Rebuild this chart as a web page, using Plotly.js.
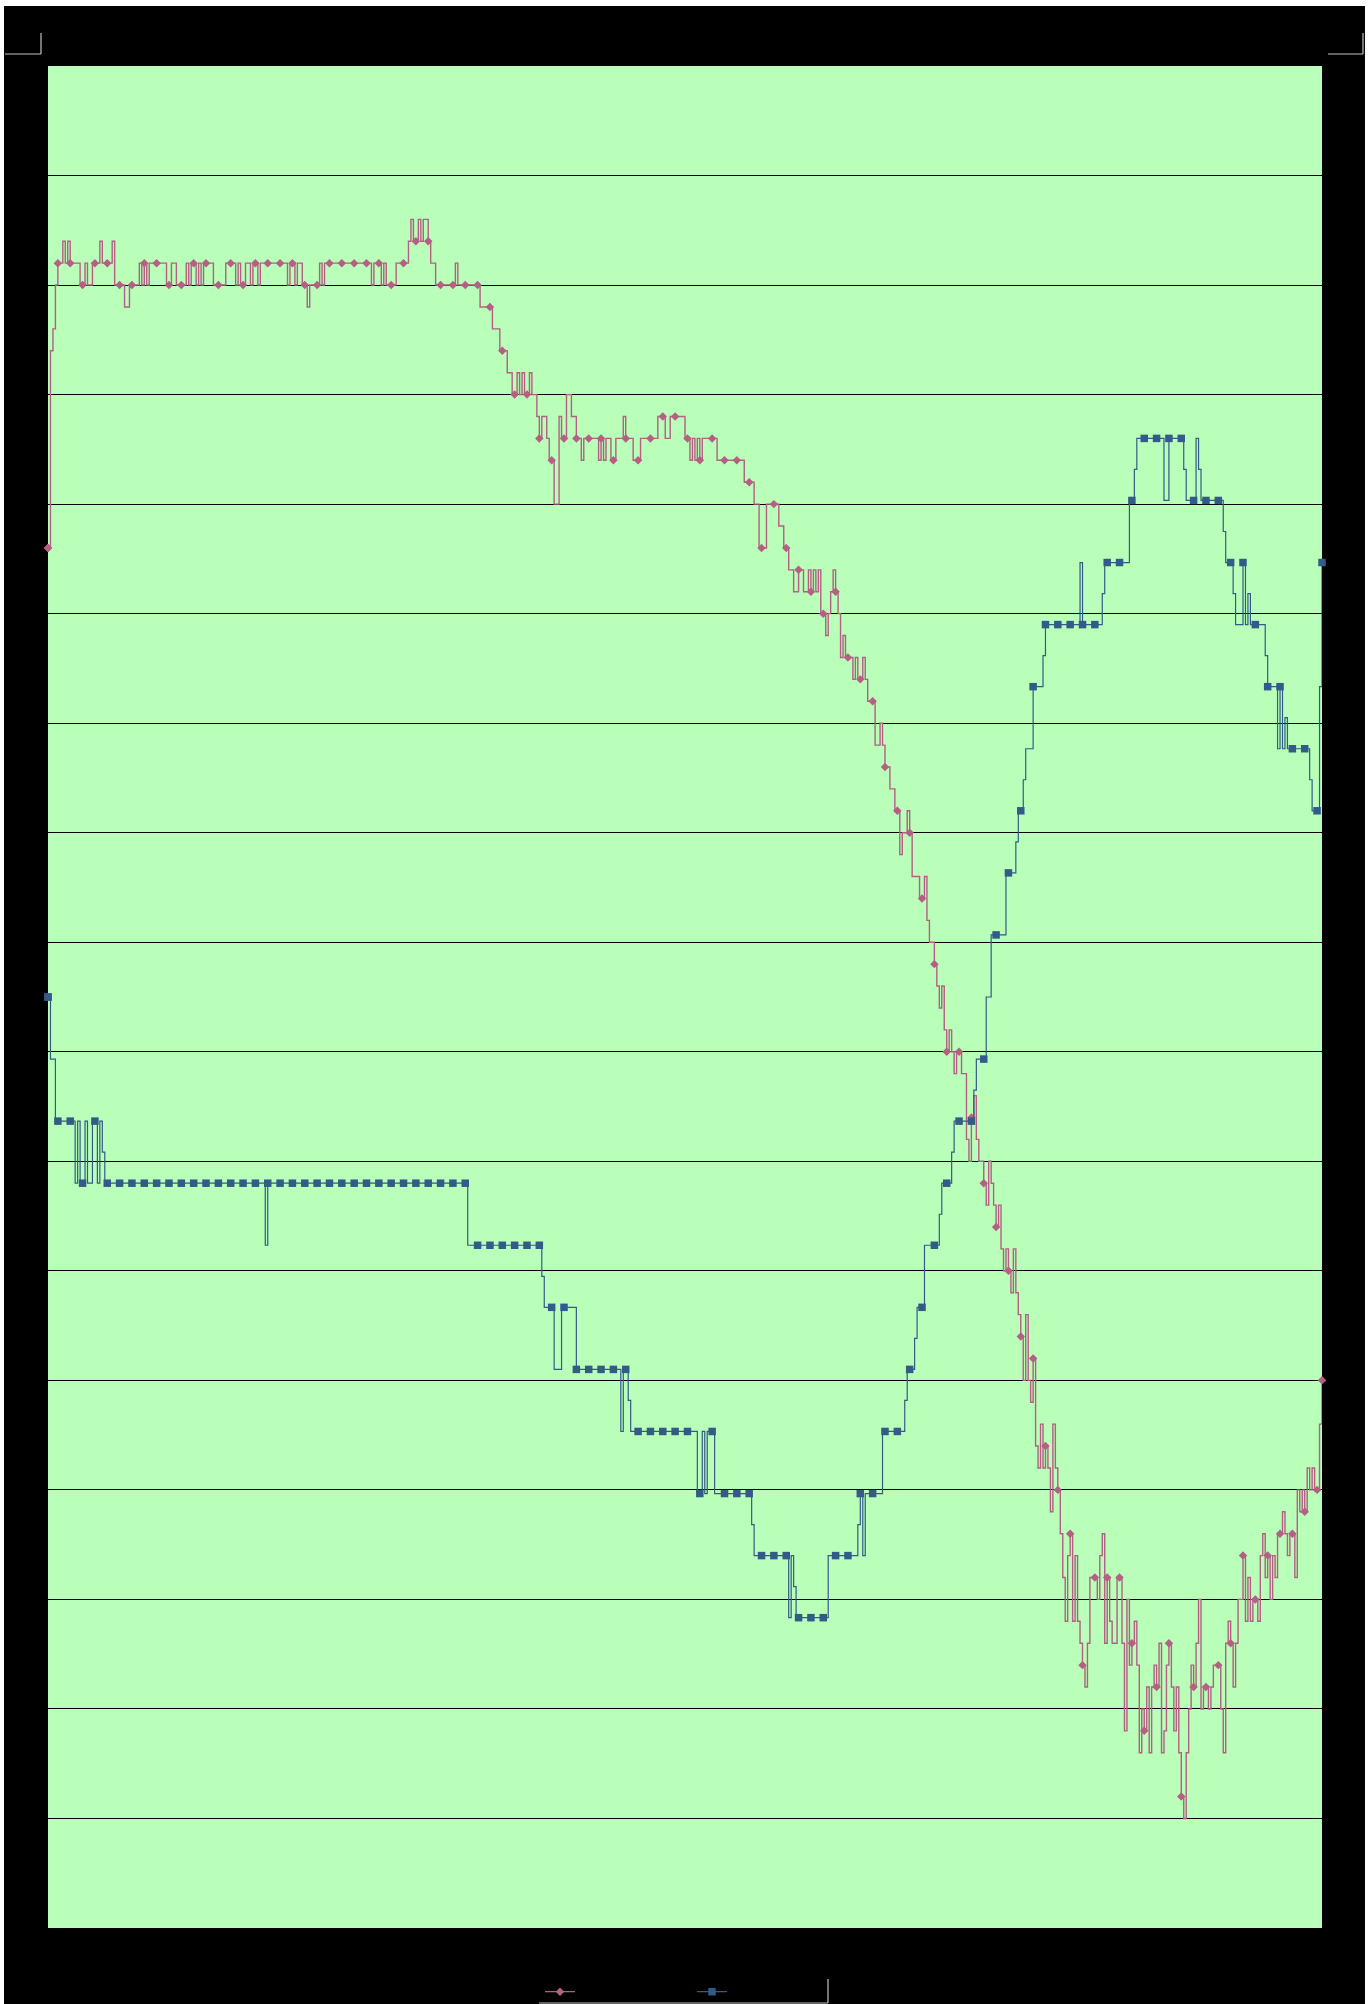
<!DOCTYPE html>
<html>
<head>
<meta charset="utf-8">
<script src="https://cdn.plot.ly/plotly-3.0.1.min.js"></script>
<style>
html, body { margin: 0; padding: 0; background: #ffffff; overflow: hidden; width: 1372px; height: 2004px; }
#chart { position: absolute; left: 4px; top: 6px; width: 1361px; height: 1998px; }
</style>
</head>
<body>
<div id="chart"></div>
<script>
// ---- data (one value per sample) ----
const seriesNames = ['Series A', 'Series B'];

// pink series (left axis, gridlines every 5)
const pinkValues = [
63,72,73,75,
76,76,77,76,77, 76,76,76,76,75, 75,76,75,75,76, 76,76,77,76,76, 76,76,77,75,75,
75,75,74,74,75, 75,75,75,76,75, 76,75,76,76,76, 76,76,76,76,75, 75,76,76,75,75,
75,75,76,75,76, 76,75,76,75,76, 76,76,76,75,75, 75,75,75,76,76, 76,76,75,76,75,
75,76,76,75,76, 76,75,76,76,76, 76,76,76,76,76, 76,76,76,75,76, 76,75,76,76,75,
75,74,75,75,75, 75,76,75,76,76, 76,76,76,76,76, 76,76,76,76,76, 76,76,76,76,76,
76,76,75,76,76, 76,75,76,75,75, 75,75,76,76,76, 76,76,77,78,77, 77,78,77,78,78,
77,76,76,75,75, 75,75,75,75,75, 75,76,75,75,75, 75,75,75,75,75, 75,74,74,74,74,
74,73,73,73,72, 72,72,71,71,70, 70,71,70,71,70, 70,71,70,70,69, 68,69,69,68,67,
67,65,65,69,68, 68,70,70,69,69, 68,68,67,68,68, 68,68,68,68,67, 68,67,68,68,67,
67,68,68,68,69, 68,68,68,67,67, 67,68,68,68,68, 68,68,68,69,69, 69,68,68,69,69,
69,69,69,69,68, 68,67,68,67,68, 67,68,68,68,68, 68,68,67,67,67, 67,67,67,67,67,
67,67,67,66,66, 66,66,65,65,63, 63,63,65,65,65, 65,65,64,64,63, 63,62,62,61,61,
62,62,61,61,62, 61,62,61,62,60, 60,59,60,61,62, 61,60,58,59,58, 58,58,57,58,57,
57,58,57,56,56, 56,54,54,55,54, 53,53,52,52,51, 51,49,50,50,51, 50,48,48,48,47,
47,48,46,45,45, 44,43,42,43,41, 40,41,40,39,40, 40,39,39,36,35, 37,38,36,35,35,
34,33,35,34,33, 32,33,31,30,31, 30,29,31,29,28, 27,25,28,25,24, 26,22,21,23,21,
22,21,19,23,21, 20,18,16,14,17, 18,14,17,14,13, 12,11,13,16,16, 16,15,17,18,13,
16,14,13,13,16, 16,13,9,15,12, 13,14,12,8,10, 9,11,8,11,12, 11,13,8,9,12,
13,11,9,11,8, 6,5,8,10,12, 11,13,15,10,11, 11,10,11,12,12, 12,10,8,13,14,
13,11,13,15,15, 17,14,16,14,15, 15,14,17,18,16, 17,15,17,16,18, 18,19,18,17,18,
18,16,20,19,20, 19,21,20,21,20,
20,23,25
];

// blue series (right axis)
const blueValues = [
30,28,28,26,
26,26,26,26,26, 26,26,24,26,24, 24,26,24,24,26, 26,24,26,25,24, 24,24,24,24,24,
24,24,24,24,24, 24,24,24,24,24, 24,24,24,24,24, 24,24,24,24,24, 24,24,24,24,24,
24,24,24,24,24, 24,24,24,24,24, 24,24,24,24,24, 24,24,24,24,24, 24,24,24,24,24,
24,24,24,24,24, 24,24,24,24,22, 24,24,24,24,24, 24,24,24,24,24, 24,24,24,24,24,
24,24,24,24,24, 24,24,24,24,24, 24,24,24,24,24, 24,24,24,24,24, 24,24,24,24,24,
24,24,24,24,24, 24,24,24,24,24, 24,24,24,24,24, 24,24,24,24,24, 24,24,24,24,24,
24,24,24,24,24, 24,24,24,24,24, 24,24,24,24,24, 24,22,22,22,22, 22,22,22,22,22,
22,22,22,22,22, 22,22,22,22,22, 22,22,22,22,22, 22,22,22,22,22, 22,21,20,20,20,
20,18,18,18,20, 20,20,20,20,20, 18,18,18,18,18, 18,18,18,18,18, 18,18,18,18,18,
18,18,18,16,18, 18,17,16,16,16, 16,16,16,16,16, 16,16,16,16,16, 16,16,16,16,16,
16,16,16,16,16, 16,16,16,16,14, 14,16,14,16,16, 16,14,14,14,14, 14,14,14,14,14,
14,14,14,14,14, 14,13,12,12,12, 12,12,12,12,12, 12,12,12,12,12, 12,10,12,11,10,
10,10,10,10,10, 10,10,10,10,10, 10,10,12,12,12, 12,12,12,12,12, 12,12,12,12,13,
14,12,14,14,14, 14,14,14,14,16, 16,16,16,16,16, 16,16,16,17,18, 18,18,19,20,20,
20,22,22,22,22, 22,22,23,24,24, 24,24,25,26,26, 26,26,26,26,26, 26,27,28,28,28,
28,30,30,32,32, 32,32,32,32,34, 34,34,34,35,36, 36,37,38,38,38, 40,40,40,40,41,
42,42,42,42,42, 42,42,42,42,42, 42,42,42,42,44, 42,42,42,42,42, 42,42,42,43,44,
44,44,44,44,44, 44,44,44,44,46, 46,47,48,48,48, 48,48,48,48,48, 48,48,48,46,46,
48,48,48,48,48, 48,47,46,46,46, 46,48,47,46,46, 46,46,46,46,46, 46,46,45,44,44,
44,43,42,42,42, 44,42,43,42,42, 42,42,42,42,41, 40,40,40,40,38, 40,38,39,38,38,
38,38,38,38,38, 38,38,37,36,36,
36,40,44
];

// ---- styling ----
const pinkColor = '#b45f83';
const blueColor = '#335b88';
const gridColor = '#000000';
const markColor = '#c2c2c2';

// markers drawn on the first sample, every 5th sample from sample 4, and the last sample
const lastIndex = pinkValues.length - 1;
const markerIdx = [0];
for (let i = 4; i < lastIndex; i += 5) markerIdx.push(i);
markerIdx.push(lastIndex);

const traces = [
  {
    name: seriesNames[0], y: pinkValues, mode: 'lines+markers', cliponaxis: false,
    line: {color: pinkColor, width: 1.4, shape: 'hv', simplify: false},
    marker: {symbol: 'diamond', size: 6.5, color: pinkColor, maxdisplayed: 1},
    hoverinfo: 'skip'
  },
  {
    name: seriesNames[1], y: blueValues, yaxis: 'y2', mode: 'lines+markers', cliponaxis: false,
    line: {color: blueColor, width: 1.2, shape: 'hv', simplify: false},
    marker: {symbol: 'square', size: 7.5, color: blueColor, maxdisplayed: 1},
    hoverinfo: 'skip'
  },
  {
    x: markerIdx, y: markerIdx.map(i => pinkValues[i]), mode: 'markers', cliponaxis: false,
    marker: {symbol: 'diamond', size: 6.5, color: pinkColor}, showlegend: false, hoverinfo: 'skip'
  },
  {
    x: markerIdx, y: markerIdx.map(i => blueValues[i]), yaxis: 'y2', mode: 'markers', cliponaxis: false,
    marker: {symbol: 'square', size: 7.5, color: blueColor}, showlegend: false, hoverinfo: 'skip'
  }
];

function seg(x0, y0, x1, y1) {
  return {type: 'line', xref: 'paper', yref: 'paper', x0: x0, y0: y0, x1: x1, y1: y1,
          line: {color: markColor, width: 1.2}, layer: 'above'};
}

const layout = {
  width: 1361, height: 1998,
  margin: {l: 44, r: 43, t: 60, b: 76, autoexpand: false},
  paper_bgcolor: '#000000',
  plot_bgcolor: '#b9ffb9',
  font: {family: 'Liberation Sans, Arial, sans-serif', color: '#000000', size: 12},
  showlegend: true,
  hovermode: false,
  legend: {
    orientation: 'h', x: 0.3862, xanchor: 'left', y: -0.0264, yanchor: 'top',
    bgcolor: 'rgba(0,0,0,0)', borderwidth: 0,
    font: {color: '#000000', size: 12},
    entrywidth: 107, entrywidthmode: 'pixels'
  },
  xaxis: {range: [0, lastIndex], showgrid: false, zeroline: false, showticklabels: false,
          ticks: '', showline: false, fixedrange: true},
  yaxis: {range: [0, 85], tickmode: 'linear', tick0: 0, dtick: 5, showgrid: true,
          gridcolor: gridColor, gridwidth: 1, zeroline: false, showticklabels: false,
          ticks: '', showline: false, fixedrange: true},
  yaxis2: {range: [0, 60], overlaying: 'y', side: 'right', showgrid: false, zeroline: false,
           showticklabels: false, ticks: '', showline: false, fixedrange: true},
  shapes: [
    seg(-0.03375, 1.00644, -0.00550, 1.00644),
    seg(-0.00550, 1.00644, -0.00550, 1.01772),
    seg(1.00471, 1.00644, 1.03218, 1.00644),
    seg(1.03218, 1.00644, 1.03218, 1.01772),
    seg(0.38540, -0.04028, 0.61224, -0.04028),
    seg(0.61224, -0.04028, 0.61224, -0.02739)
  ]
};

Plotly.newPlot('chart', traces, layout, {displayModeBar: false});
</script>
</body>
</html>
